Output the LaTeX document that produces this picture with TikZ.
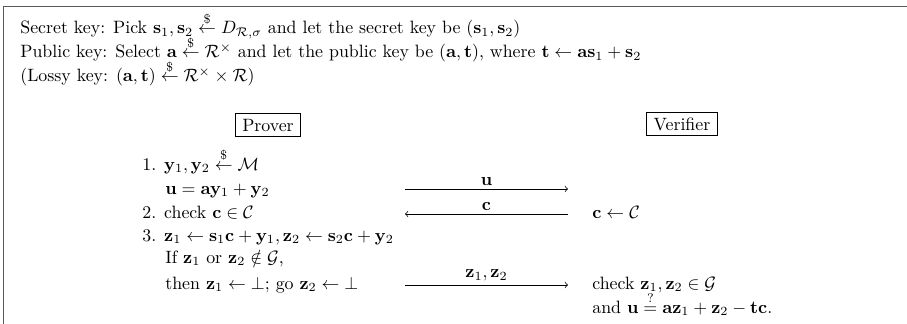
\documentclass[tikz,border=0pt]{standalone}
\usepackage{amsmath,amssymb}
\begin{document}
\begin{tikzpicture}[x=0.56pt,y=-0.56pt,
  txt/.style={anchor=base west,inner sep=0pt},
  party/.style={draw,line width=0.5pt,inner xsep=4pt,inner ysep=3pt},
  msg/.style={->,line width=0.4pt},
  lbl/.style={above,inner sep=2pt}]
\useasboundingbox (0,0) rectangle (907,324);
\draw[black!65,line width=0.7pt] (3.5,324) -- (3.5,6.5) -- (907,6.5);
% keys
\node[txt] (sk) at (20,34) {Secret key: Pick $\mathbf{s}_1,\mathbf{s}_2 \stackrel{\$}{\leftarrow} D_{\mathcal{R},\sigma}$ and let the secret key be $(\mathbf{s}_1,\mathbf{s}_2)$};
\node[txt] (pk) at (20,58) {Public key: Select $\mathbf{a} \stackrel{\$}{\leftarrow} \mathcal{R}^\times$ and let the public key be $(\mathbf{a},\mathbf{t})$, where $\mathbf{t} \leftarrow \mathbf{a}\mathbf{s}_1+\mathbf{s}_2$};
\node[txt] (lk) at (20,82) {(Lossy key: $(\mathbf{a},\mathbf{t}) \stackrel{\$}{\leftarrow} \mathcal{R}^\times \times \mathcal{R}$)};
% parties
\node[party] (prover) at (268,125) {Prover};
\node[party] (verifier) at (682,124) {Verifier};
% prover side
\node[txt] (p1) at (142,170) {1. $\mathbf{y}_1,\mathbf{y}_2 \stackrel{\$}{\leftarrow} \mathcal{M}$};
\node[txt] (p1b) at (165,194) {$\mathbf{u}=\mathbf{a}\mathbf{y}_1+\mathbf{y}_2$};
\node[txt] (p2) at (142,218) {2. check $\mathbf{c}\in\mathcal{C}$};
\node[txt] (p3) at (142,241) {3. $\mathbf{z}_1 \leftarrow \mathbf{s}_1\mathbf{c}+\mathbf{y}_1, \mathbf{z}_2 \leftarrow \mathbf{s}_2\mathbf{c}+\mathbf{y}_2$};
\node[txt] (p3b) at (165,263) {If $\mathbf{z}_1$ or $\mathbf{z}_2\notin\mathcal{G}$,};
\node[txt] (p3c) at (165,289) {then $\mathbf{z}_1 \leftarrow \bot$; go $\mathbf{z}_2 \leftarrow \bot$};
% verifier side
\node[txt] (v1) at (592,218) {$\mathbf{c} \leftarrow \mathcal{C}$};
\node[txt] (v2) at (592,289) {check $\mathbf{z}_1,\mathbf{z}_2\in\mathcal{G}$};
\node[txt] (v2b) at (592,313) {and $\mathbf{u} \stackrel{?}{=} \mathbf{a}\mathbf{z}_1+\mathbf{z}_2-\mathbf{t}\mathbf{c}$.};
% messages
\coordinate (uL) at (405,189);
\coordinate (uR) at (568,189);
\coordinate (cL) at (405,214);
\coordinate (cR) at (568,214);
\coordinate (zL) at (405,285);
\coordinate (zR) at (568,285);
\draw[msg] (uL) -- node[lbl] (ulbl) {$\mathbf{u}$} (uR);
\draw[msg] (cR) -- node[lbl] (clbl) {$\mathbf{c}$} (cL);
\draw[msg] (zL) -- node[lbl] (zlbl) {$\mathbf{z}_1,\mathbf{z}_2$} (zR);
\end{tikzpicture}
\end{document}
